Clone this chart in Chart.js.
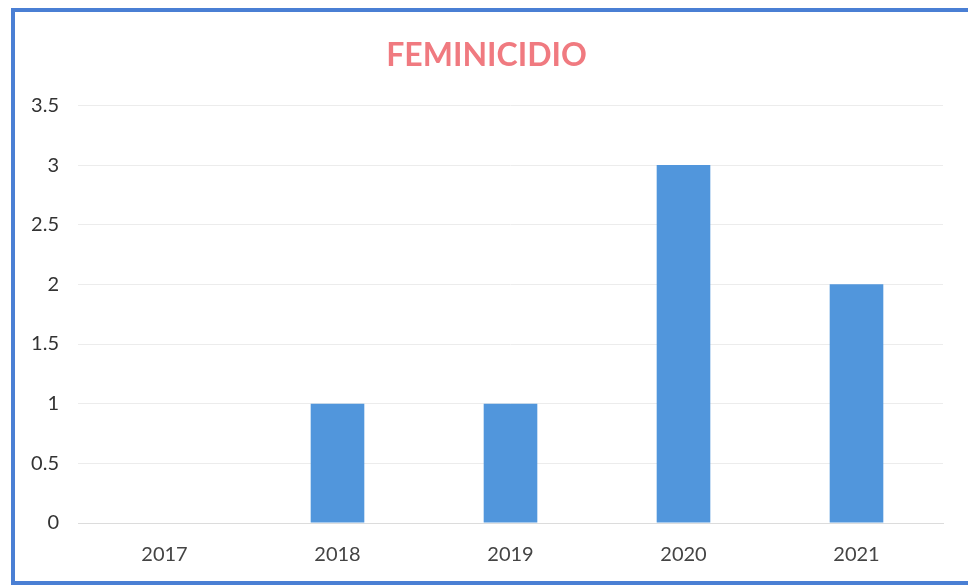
<!DOCTYPE html>
<html>
<head>
<meta charset="utf-8">
<script src="https://cdn.jsdelivr.net/npm/chart.js@4/dist/chart.umd.min.js"></script>
<style>
    html, body { margin: 0; padding: 0; background: #fff; }
    #wrap { position: relative; width: 968px; height: 587px; overflow: hidden; }
    #frame {
        position: absolute; left: 11px; top: 8px; width: 975px; height: 569px;
        border: 4px solid #4a7fd4; pointer-events: none;
    }
</style>
</head>
<body>
<div id="wrap">
    <canvas id="chart" width="968" height="587"></canvas>
    <div id="frame"></div>
</div>
<script>
var years = ['2017', '2018', '2019', '2020', '2021'];
var casos = [0, 1, 1, 3, 2];
var yTicks = [0, 0.5, 1, 1.5, 2, 2.5, 3, 3.5];

var ctx = document.getElementById('chart');

var chart = new Chart(ctx, {
    type: 'bar',
    data: {
        labels: years,
        datasets: [{
            data: casos,
            backgroundColor: '#5196dc',
            categoryPercentage: 1,
            barPercentage: 0.31
        }]
    },
    options: {
        responsive: false,
        animation: false,
        layout: {
            padding: { left: 30, right: 25, top: 36, bottom: 0 }
        },
        plugins: {
            legend: { display: false },
            tooltip: { enabled: false },
            title: {
                display: true,
                text: 'FEMINICIDIO',
                color: '#f07a80',
                font: { family: 'Lato', size: 32, weight: 'bold' },
                padding: { top: 0, bottom: 31 }
            }
        },
        scales: {
            x: {
                grid: { display: false, drawTicks: false },
                border: { display: true, color: '#dcdcdc' },
                ticks: {
                    color: '#444',
                    padding: 20,
                    font: { family: 'Lato', size: 20 }
                }
            },
            y: {
                min: 0,
                max: 3.5,
                afterFit: function(scale) { scale.width = 48; },
                afterBuildTicks: function(scale) {
                    scale.ticks = yTicks.map(function(v) { return { value: v }; });
                },
                grid: { color: '#ececec', drawTicks: false },
                border: { display: false },
                ticks: {
                    color: '#333',
                    padding: 19,
                    font: { family: 'Lato', size: 20 },
                    callback: function(v) { return String(v); }
                }
            }
        }
    }
});
</script>
</body>
</html>
